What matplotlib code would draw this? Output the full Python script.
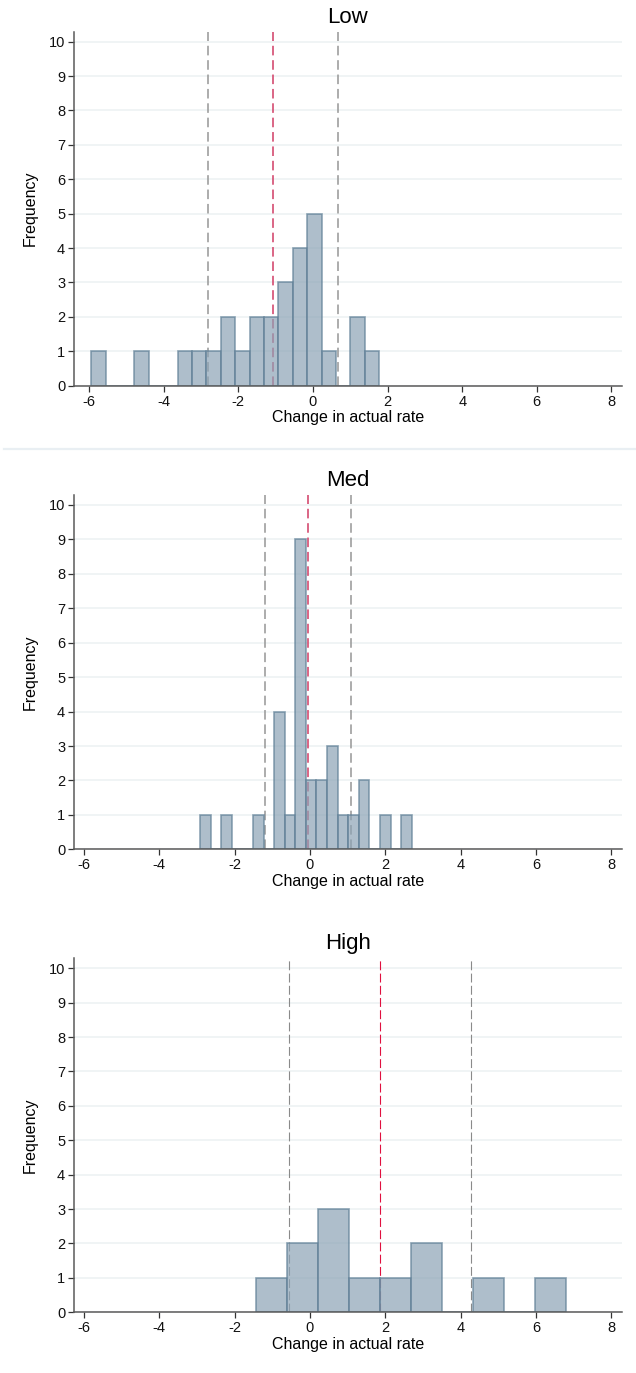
import numpy as np
import matplotlib
matplotlib.use("Agg")
import matplotlib.pyplot as plt
from matplotlib.lines import Line2D

plt.rcParams['font.family'] = ['Liberation Sans', 'DejaVu Sans']

# Histogram data (bin start, bin width, counts per bin)
panels = ['Low', 'Med', 'High']

low_start, low_width = -5.946, 0.386
low_counts = [1, 0, 0, 1, 0, 0, 1, 1, 1, 2, 1, 2, 2, 3, 4, 5, 1, 0, 2, 1]

med_start, med_width = -2.92, 0.281
med_counts = [1, 0, 1, 0, 0, 1, 0, 4, 1, 9, 2, 2, 3, 1, 1, 2, 0, 1, 0, 1]

high_start, high_width = -1.43, 0.823
high_counts = [1, 2, 3, 1, 1, 2, 0, 1, 0, 1]

# mean and the two outer reference lines
means = [-1.075, -0.05, 1.86]
lower_lines = [-2.818, -1.20, -0.555]
upper_lines = [0.668, 1.09, 4.284]

xlims = [(-6.40, 8.27), (-6.26, 8.27), (-6.26, 8.27)]
xticks = [-6, -4, -2, 0, 2, 4, 6, 8]
yticks = list(range(0, 11))

W, H = 636, 1373
fig = plt.figure(figsize=(W / 100, H / 100), dpi=100)

# axes boxes in pixels (left, right, top, bottom)
boxes = [(74.2, 621.5, 31.7, 385.7),
         (74.2, 621.5, 495.0, 849.3),
         (74.2, 621.5, 958.3, 1312.3)]

starts = [low_start, med_start, high_start]
widths = [low_width, med_width, high_width]
counts_all = [low_counts, med_counts, high_counts]

# thinner lines in the last panel
line_w = [1.15, 1.15, 0.8]
red_col = ['#d2446a', '#d2446a', '#e0103f']
gray_col = ['#9a9a9a', '#9a9a9a', '#8a8a8a']

for i, name in enumerate(panels):
    l, r, t, b = boxes[i]
    ax = fig.add_axes([l / W, 1 - b / H, (r - l) / W, (b - t) / H])

    counts = np.array(counts_all[i], dtype=float)
    edges = starts[i] + widths[i] * np.arange(len(counts) + 1)
    centers = (edges[:-1] + edges[1:]) / 2

    ax.set_axisbelow(True)
    ax.yaxis.grid(True, color='#edf2f4', linewidth=1.2)

    dash = (6, 3) if i < 2 else (8, 3)
    ax.axvline(lower_lines[i], color=gray_col[i], lw=line_w[i], dashes=dash, zorder=1)
    ax.axvline(upper_lines[i], color=gray_col[i], lw=line_w[i], dashes=dash, zorder=1)
    ax.axvline(means[i], color=red_col[i], lw=line_w[i], dashes=dash, zorder=1)

    ax.hist(centers, bins=edges, weights=counts, color='#8ca3b5', alpha=0.7,
            edgecolor='#5f7f96', linewidth=1.2, zorder=2)

    ax.set_xlim(*xlims[i])
    ax.set_ylim(0, 10.29)
    ax.set_xticks(xticks)
    ax.set_yticks(yticks)
    ax.set_xticklabels([str(v) for v in xticks])

    for side in ['top', 'right']:
        ax.spines[side].set_visible(False)
    for side in ['left', 'bottom']:
        ax.spines[side].set_color('#5a5a5a')
        ax.spines[side].set_linewidth(1.1)

    ax.tick_params(axis='both', length=4.5, width=0.9, color='#333333',
                   labelsize=10.5, pad=2, labelcolor='#111111')

    ax.set_title(name, fontsize=16, pad=6.5)
    ax.set_xlabel('Change in actual rate', fontsize=11.5, labelpad=1)
    ax.set_ylabel('Frequency', fontsize=11.5, labelpad=8)

# faint separator under the first panel
fig.add_artist(Line2D([4 / W, 1], [1 - 449 / H, 1 - 449 / H],
                      color='#e9eff3', lw=1.6))

fig.savefig('out.png', dpi=100)
